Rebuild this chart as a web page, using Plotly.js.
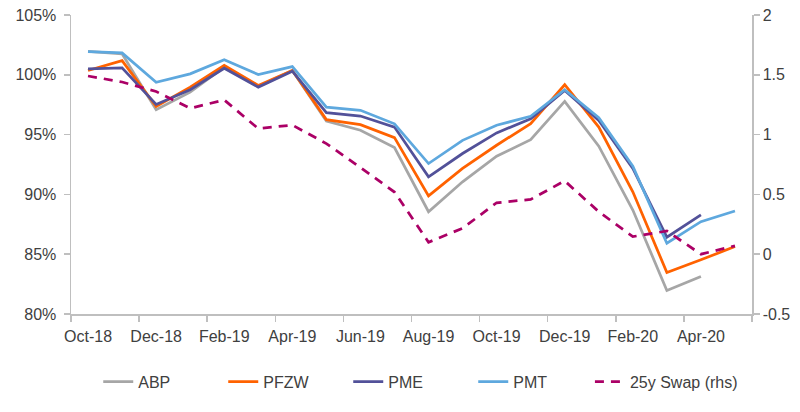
<!DOCTYPE html>
<html>
<head>
<meta charset="utf-8">
<script src="https://cdn.plot.ly/plotly-3.0.1.min.js"></script>
<style>
  html, body { margin: 0; padding: 0; background: #fff; }
  #chart { width: 800px; height: 412px; }
</style>
</head>
<body>
<div id="chart"></div>
<script>
const months = ["Oct-18","Nov-18","Dec-18","Jan-19","Feb-19","Mar-19","Apr-19","May-19","Jun-19","Jul-19",
                "Aug-19","Sep-19","Oct-19","Nov-19","Dec-19","Jan-20","Feb-20","Mar-20","Apr-20","May-20"];
const abp  = [101.95,101.75,97.08,98.55,100.64,99.03,100.36,96.13,95.36,93.92,88.55,91.05,93.19,94.58,97.78,94.03,88.69,81.97,83.14,null];
const pfzw = [100.36,101.19,97.36,98.97,100.78,99.11,100.36,96.25,95.83,94.75,89.88,92.17,94.11,95.92,99.17,95.63,90.22,83.47,84.53,85.64];
const pme  = [100.50,100.58,97.52,98.75,100.55,98.97,100.30,96.83,96.55,95.63,91.47,93.42,95.14,96.33,98.69,96.19,92.17,86.42,88.28,null];
const pmt  = [101.94,101.83,99.38,100.08,101.25,100.02,100.69,97.30,97.03,95.90,92.58,94.52,95.78,96.53,98.75,96.42,92.36,85.92,87.72,88.61];
const swap = [1.49,1.44,1.36,1.22,1.29,1.05,1.08,0.925,0.725,0.52,0.10,0.217,0.43,0.458,0.613,0.355,0.147,0.194,0.0,0.07];
const rightTicks = [-0.5,0,0.5,1,1.5,2];
const rightTickText = ["-0.5","0","0.5","1","1.5","2"];

const FONT = "Liberation Sans, Arial, sans-serif";
const TXT = "#404040";
const AX = "#BFBFBF";

function line(name, y, color, extra) {
  return Object.assign({
    type: "scatter", mode: "lines", name: name, x: months, y: y,
    line: { color: color, width: 2.75 }, connectgaps: false
  }, extra || {});
}

const data = [
  line("ABP", abp, "#A6A6A6"),
  line("PFZW", pfzw, "#FF6200"),
  line("PME", pme, "#525199"),
  line("PMT", pmt, "#5EA8DE"),
  line("25y Swap (rhs)", swap, "#AB0066", { yaxis: "y2", legend: "legend2", line: { color: "#AB0066", width: 2.75, dash: "9px,7px" } })
];

const legendFont = { family: FONT, size: 16, color: TXT };

const layout = {
  width: 800, height: 412,
  margin: { l: 71, r: 48, t: 14.5, b: 97.5 },
  paper_bgcolor: "#fff", plot_bgcolor: "#fff",
  font: { family: FONT, size: 16, color: TXT },
  showlegend: true,
  legend: {
    orientation: "h", x: 0.04, xanchor: "left", y: -0.17, yanchor: "top",
    font: legendFont, entrywidth: 80, entrywidthmode: "pixels",
    traceorder: "normal"
  },
  legend2: {
    orientation: "h", x: 0.762, xanchor: "left", y: -0.17, yanchor: "top",
    font: legendFont
  },
  xaxis: {
    type: "category", range: [-0.5, months.length - 0.5],
    dtick: 2, tick0: 0, tickson: "boundaries", tickangle: 0,
    ticks: "outside", ticklen: 6, tickcolor: AX, tickwidth: 1.5,
    ticklabelstandoff: 7,
    showline: true, linecolor: AX, linewidth: 1.5,
    showgrid: false, zeroline: false,
    tickfont: { family: FONT, size: 16, color: TXT }
  },
  yaxis: {
    range: [80, 105], dtick: 5, tick0: 80, ticksuffix: "%",
    ticks: "outside", ticklen: 6, tickcolor: AX, tickwidth: 1.5,
    ticklabelstandoff: 4,
    showline: true, linecolor: AX, linewidth: 1.5,
    showgrid: false, zeroline: false,
    tickfont: { family: FONT, size: 16, color: TXT }
  },
  yaxis2: {
    overlaying: "y", side: "right", range: [-0.5, 2],
    tickmode: "array", tickvals: rightTicks, ticktext: rightTickText,
    ticks: "outside", ticklen: 6, tickcolor: AX, tickwidth: 1.5,
    showline: true, linecolor: AX, linewidth: 1.5,
    showgrid: false, zeroline: false,
    tickfont: { family: FONT, size: 16, color: TXT }
  }
};

Plotly.newPlot("chart", data, layout, { displayModeBar: false, staticPlot: true });
</script>
</body>
</html>
